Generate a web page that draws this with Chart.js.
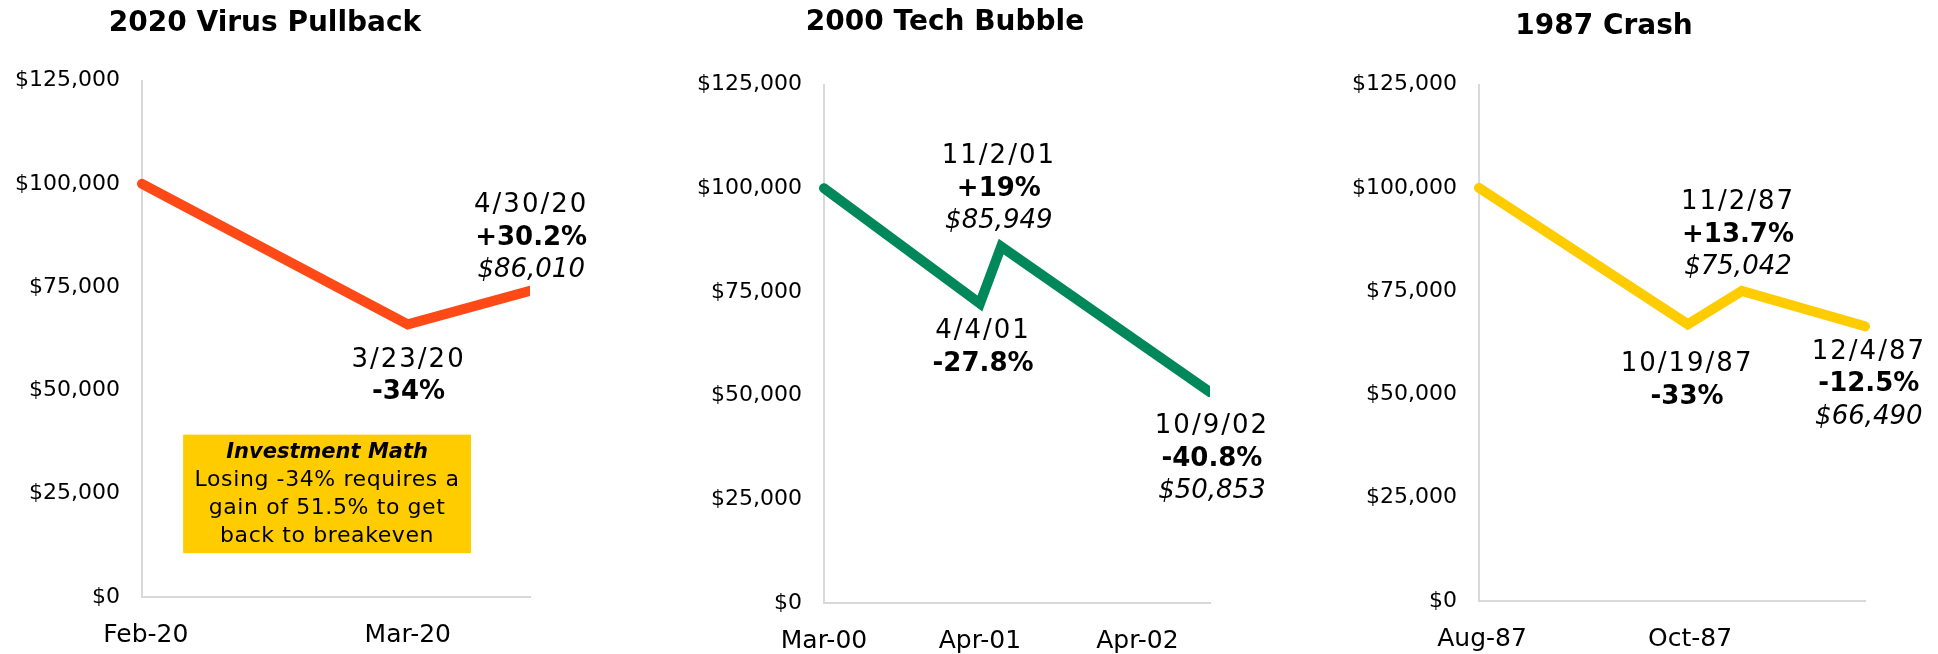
<!DOCTYPE html>
<html>
<head>
<meta charset="utf-8">
<script src="https://cdn.jsdelivr.net/npm/chart.js@4.4.0/dist/chart.umd.min.js"></script>
<style>
html, body { margin: 0; padding: 0; background: #fff; }
body { width: 1938px; height: 654px; position: relative; overflow: hidden; }
.panel { position: absolute; top: 0; height: 654px; }
</style>
</head>
<body>
<div class="panel" style="left:0;width:600px"><canvas id="virusChart"></canvas></div>
<div class="panel" style="left:680px;width:600px"><canvas id="techChart"></canvas></div>
<div class="panel" style="left:1343px;width:595px"><canvas id="crashChart"></canvas></div>
<script>
const FONT = '"DejaVu Sans", sans-serif';

// y axis, shared by the three panels
const yTicks = [0, 25000, 50000, 75000, 100000, 125000];

// 2020 virus pullback (x = share of the plotted period, 0-100)
const virusX = [0, 68.5, 100];
const virusValues = [100000, 66000, 74100];
const virusTickPos = [1, 68.5];
const virusTickLabels = ['Feb-20', 'Mar-20'];

// 2000 tech bubble
const techX = [0, 40.4, 45.9, 100];
const techValues = [100000, 72200, 85949, 50853];
const techTickPos = [0, 40.4, 81.2];
const techTickLabels = ['Mar-00', 'Apr-01', 'Apr-02'];

// 1987 crash
const crashX = [0, 54.1, 68.1, 100];
const crashValues = [100000, 67000, 75042, 66490];
const crashTickPos = [0.8, 54.7];
const crashTickLabels = ['Aug-87', 'Oct-87'];

// text callouts, anchored in data units
const virusNotes = [
    { x: 100.3, y: 95300, lines: ['4/30/20', '+30.2%', '$86,010'], styles: ['', 'bold', 'italic'] },
    { x: 68.7, y: 57900, lines: ['3/23/20', '-34%'], styles: ['', 'bold'] }
];
const techNotes = [
    { x: 45.3, y: 108200, lines: ['11/2/01', '+19%', '$85,949'], styles: ['', 'bold', 'italic'] },
    { x: 41.2, y: 65900, lines: ['4/4/01', '-27.8%'], styles: ['', 'bold'] },
    { x: 100.5, y: 43000, lines: ['10/9/02', '-40.8%', '$50,853'], styles: ['', 'bold', 'italic'] }
];
const crashNotes = [
    { x: 67.1, y: 97000, lines: ['11/2/87', '+13.7%', '$75,042'], styles: ['', 'bold', 'italic'] },
    { x: 53.9, y: 57700, lines: ['10/19/87', '-33%'], styles: ['', 'bold'] },
    { x: 101, y: 60800, lines: ['12/4/87', '-12.5%', '$66,490'], styles: ['', 'bold', 'italic'] }
];

// yellow "Investment Math" box in the first panel
const mathBoxX = [10.6, 84.8];
const mathBoxY = [10600, 39300];
const mathBoxText = ['Investment Math', 'Losing -34% requires a', 'gain of 51.5% to get', 'back to breakeven'];
const mathBoxStyles = ['bold italic', '', '', ''];

const noteLayer = {
    id: 'notes',
    afterDatasetsDraw(chart, args, opts) {
        const { ctx, scales: { x, y } } = chart;
        ctx.save();
        ctx.textAlign = 'center';
        ctx.textBaseline = 'middle';
        ctx.fillStyle = '#000';

        if (opts.box) {
            const b = opts.box;
            const left = x.getPixelForValue(b.x[0]);
            const right = x.getPixelForValue(b.x[1]);
            const top = y.getPixelForValue(b.y[1]);
            const bottom = y.getPixelForValue(b.y[0]);
            ctx.fillStyle = '#FFCC00';
            ctx.fillRect(left, top, right - left, bottom - top);
            ctx.fillStyle = '#000';
            const cx = (left + right) / 2;
            b.text.forEach((t, i) => {
                const bold = !!b.styles[i];
                ctx.font = (bold ? b.styles[i] + ' 21px ' : '22px ') + FONT;
                ctx.letterSpacing = bold ? '0px' : '0.6px';
                ctx.fillText(t, cx, top + 18 + i * 28);
            });
        }

        (opts.items || []).forEach(n => {
            const px = x.getPixelForValue(n.x);
            const py = y.getPixelForValue(n.y) + 2;
            n.lines.forEach((t, i) => {
                const st = n.styles[i];
                ctx.font = (st ? st + ' ' : '') + '26px ' + FONT;
                ctx.letterSpacing = st ? '0px' : '2px';
                ctx.fillText(t, px, py + i * 32.5);
            });
        });
        ctx.restore();
    }
};

function money(v) {
    return '$' + Number(v).toLocaleString('en-US');
}

function makeChart(id, cfg) {
    const axisBorder = { display: true, color: '#d9d9dc', width: 2 };
    return new Chart(document.getElementById(id), {
        type: 'line',
        data: {
            datasets: [{
                data: cfg.xs.map((v, i) => ({ x: v, y: cfg.values[i] })),
                borderColor: cfg.color,
                borderWidth: 10,
                pointRadius: 0,
                tension: 0,
                borderCapStyle: 'round',
                borderJoinStyle: 'miter',
                clip: cfg.clip
            }]
        },
        options: {
            responsive: true,
            maintainAspectRatio: false,
            animation: false,
            layout: { padding: { left: 0, right: cfg.padRight, top: 0, bottom: 0 } },
            plugins: {
                legend: { display: false },
                tooltip: { enabled: false },
                title: {
                    display: true,
                    text: cfg.title,
                    color: '#000',
                    font: { family: FONT, size: 28, weight: 'bold' },
                    padding: { top: cfg.titleTop, bottom: cfg.titleBottom }
                },
                notes: { items: cfg.notes, box: cfg.box }
            },
            scales: {
                x: {
                    type: 'linear',
                    min: 0,
                    max: 100,
                    afterBuildTicks: s => { s.ticks = cfg.tickPos.map(v => ({ value: v })); },
                    afterFit: s => { s.height = cfg.xHeight; },
                    ticks: {
                        autoSkip: false,
                        maxRotation: 0,
                        color: '#000',
                        padding: 23,
                        font: { family: FONT, size: 25 },
                        callback: v => cfg.tickLabels[cfg.tickPos.indexOf(v)]
                    },
                    grid: { display: false, drawTicks: false },
                    border: axisBorder
                },
                y: {
                    min: 0,
                    max: 125000,
                    afterBuildTicks: s => { s.ticks = yTicks.map(v => ({ value: v })); },
                    afterFit: s => { s.width = cfg.yWidth; },
                    ticks: {
                        color: '#000',
                        padding: 22,
                        font: { family: FONT, size: 22 },
                        callback: v => money(v)
                    },
                    grid: { display: false, drawTicks: false },
                    border: axisBorder
                }
            }
        },
        plugins: [noteLayer]
    });
}

makeChart('virusChart', {
    title: '2020 Virus Pullback',
    xs: virusX, values: virusValues, color: '#FF4A17',
    tickPos: virusTickPos, tickLabels: virusTickLabels,
    notes: virusNotes,
    box: { x: mathBoxX, y: mathBoxY, text: mathBoxText, styles: mathBoxStyles },
    yWidth: 142, padRight: 70, xHeight: 57, titleTop: 7, titleBottom: 40,
    clip: { left: 6, top: 10, right: 0, bottom: 10 }
});

makeChart('techChart', {
    title: '2000 Tech Bubble',
    xs: techX, values: techValues, color: '#00875A',
    tickPos: techTickPos, tickLabels: techTickLabels,
    notes: techNotes,
    yWidth: 144, padRight: 70, xHeight: 51, titleTop: 6, titleBottom: 45,
    clip: { left: 6, top: 10, right: 0, bottom: 10 }
});

makeChart('crashChart', {
    title: '1987 Crash',
    xs: crashX, values: crashValues, color: '#FFCC00',
    tickPos: crashTickPos, tickLabels: crashTickLabels,
    notes: crashNotes,
    yWidth: 136, padRight: 73, xHeight: 53, titleTop: 10, titleBottom: 41,
    clip: 6
});
</script>
</body>
</html>
